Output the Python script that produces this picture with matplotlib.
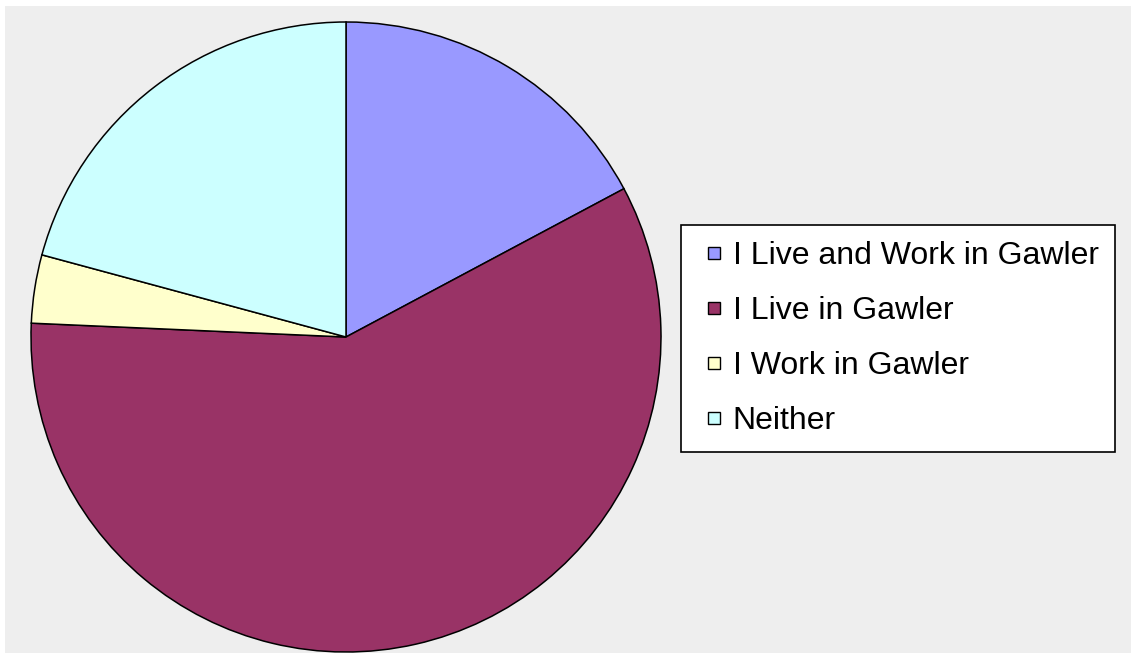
import matplotlib
matplotlib.use('Agg')
import matplotlib.pyplot as plt
from matplotlib.patches import Rectangle
from matplotlib.lines import Line2D

labels = ['I Live and Work in Gawler', 'I Live in Gawler', 'I Work in Gawler', 'Neither']
shares = [17.2, 58.5, 3.5, 20.8]
colors = ['#9999FF', '#993366', '#FFFFCC', '#CCFFFF']

W, H = 1136, 655
fig = plt.figure(figsize=(W / 100, H / 100), dpi=100)
plt.rcParams['font.family'] = ['Liberation Sans', 'DejaVu Sans']

# grey chart area behind everything
fig.patches.append(Rectangle((5 / W, 2 / H), 1126 / W, 647 / H,
                             transform=fig.transFigure, facecolor='#EEEEEE',
                             edgecolor='none', zorder=-10))

ax = fig.add_axes([31 / W, 3 / H, 630 / W, 630 / H])
ax.patch.set_visible(False)
wedges, _ = ax.pie(shares, colors=colors, startangle=90, counterclock=False,
                   radius=1, wedgeprops=dict(edgecolor='black', linewidth=1.1))
ax.set_xlim(-1, 1)
ax.set_ylim(-1, 1)
ax.set_aspect('equal')
ax.axis('off')

handles = [Line2D([], [], linestyle='none', marker='s', markersize=8.5,
                  markerfacecolor=c, markeredgecolor='black', markeredgewidth=1.0)
           for c in colors]
leg = fig.legend(handles, labels, loc='upper left',
                 bbox_to_anchor=(681 / W, 1 - 225 / H), borderaxespad=0,
                 fontsize=23, frameon=True, fancybox=False,
                 handlelength=1.07, handletextpad=0.05,
                 labelspacing=0.78, borderpad=0.5)
frame = leg.get_frame()
frame.set_edgecolor('black')
frame.set_linewidth(1.2)
frame.set_facecolor('white')
frame.set_alpha(1)

fig.savefig('out.png', dpi=100, facecolor='white')
